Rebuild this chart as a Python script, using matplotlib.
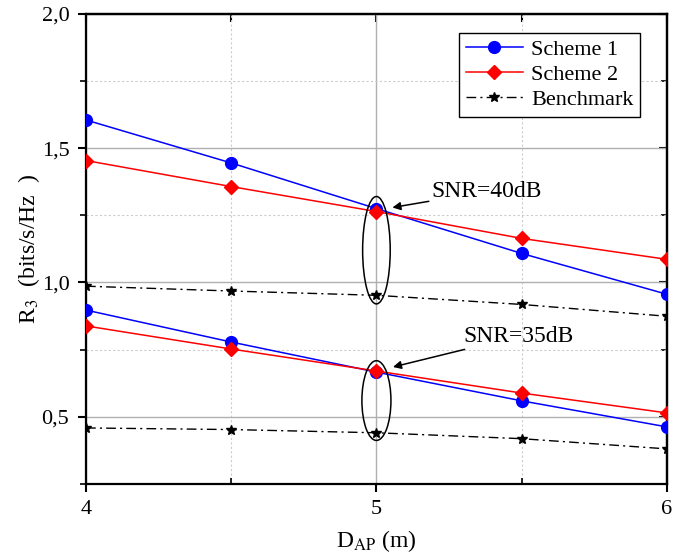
import numpy as np
import matplotlib
matplotlib.use('Agg')
import matplotlib.pyplot as plt
from matplotlib.patches import Ellipse
from matplotlib.ticker import FuncFormatter, MultipleLocator

plt.rcParams['font.family'] = ['Liberation Serif', 'DejaVu Serif']
plt.rcParams['mathtext.fontset'] = 'stix'

d_ap = [4.0, 4.5, 5.0, 5.5, 6.0]

# SNR = 40 dB
scheme1_40 = [1.605, 1.445, 1.275, 1.108, 0.956]
scheme2_40 = [1.454, 1.357, 1.264, 1.164, 1.086]
bench_40 = [0.986, 0.968, 0.952, 0.918, 0.874]

# SNR = 35 dB
scheme1_35 = [0.897, 0.778, 0.666, 0.559, 0.462]
scheme2_35 = [0.838, 0.752, 0.670, 0.588, 0.514]
bench_35 = [0.458, 0.452, 0.440, 0.418, 0.380]

fig = plt.figure(figsize=(6.91, 5.58), dpi=100)
ax = fig.add_axes([0.1245, 0.133, 0.8405, 0.842])

dashdot = (0, (7, 3, 1.5, 3))
ax.plot(d_ap, scheme1_40, '-o', color='blue', lw=1.1, ms=8.5, label='Scheme 1', zorder=5)
ax.plot(d_ap, scheme2_40, '-D', color='red', lw=1.1, ms=7.5, label='Scheme 2', zorder=5)
ax.plot(d_ap, bench_40, marker='*', ls=dashdot, color='black', lw=1.0, ms=7, label='Benchmark', zorder=5)
ax.plot(d_ap, scheme1_35, '-o', color='blue', lw=1.1, ms=8.5, zorder=5)
ax.plot(d_ap, scheme2_35, '-D', color='red', lw=1.1, ms=7.5, zorder=5)
ax.plot(d_ap, bench_35, marker='*', ls=dashdot, color='black', lw=1.0, ms=7, zorder=5)

ax.set_xlim(4, 6)
ax.set_ylim(0.25, 2.0)
ax.xaxis.set_major_locator(MultipleLocator(1))
ax.xaxis.set_minor_locator(MultipleLocator(0.5))
ax.yaxis.set_major_locator(MultipleLocator(0.5))
ax.yaxis.set_minor_locator(MultipleLocator(0.25))
ax.yaxis.set_major_formatter(FuncFormatter(lambda v, p: f'{v:.1f}'.replace('.', ',')))

ax.grid(which='major', color='#b0b0b0', lw=1.0, ls='-')
ax.grid(which='minor', color='#cccccc', lw=0.8, ls=(0, (2, 2)))
ax.set_axisbelow(True)

for s in ax.spines.values():
    s.set_linewidth(1.6)
ax.tick_params(which='major', direction='out', length=6, width=1.5, labelsize=16, pad=6)
ax.tick_params(which='minor', direction='out', length=4, width=1.2)
ax.tick_params(axis='x', which='minor', direction='in')

top = ax.secondary_xaxis('top')
top.set_xticks([4, 5, 6])
top.set_xticks([4.5, 5.5], minor=True)
top.tick_params(which='both', direction='in', length=6, width=1.5, labeltop=False)
top.spines['top'].set_linewidth(1.6)
right = ax.secondary_yaxis('right')
right.set_yticks([0.5, 1.0, 1.5, 2.0])
right.set_yticks([0.25, 0.75, 1.25, 1.75], minor=True)
right.tick_params(which='major', direction='in', length=6, width=1.5, labelright=False)
right.tick_params(which='minor', direction='in', length=4, width=1.2, labelright=False)
right.spines['right'].set_linewidth(1.6)

ax.set_xlabel('D$_{\\mathrm{AP}}$ (m)', fontsize=17, labelpad=6)
ax.set_ylabel('R$_3$  (bits/s/Hz  )', fontsize=17, labelpad=0)

# ellipses marking the two SNR groups
ax.add_patch(Ellipse((5.0, 1.12), 0.095, 0.40, fill=False, ec='black', lw=1.1, zorder=6))
ax.add_patch(Ellipse((5.0, 0.56), 0.10, 0.297, fill=False, ec='black', lw=1.1, zorder=6))

ax.annotate('SNR=40dB', xy=(5.055, 1.279), xytext=(5.19, 1.339), fontsize=17,
            va='center', ha='left',
            arrowprops=dict(arrowstyle='-|>', color='black', lw=1.1, shrinkA=0, shrinkB=0,
                            mutation_scale=12))
ax.annotate('SNR=35dB', xy=(5.057, 0.685), xytext=(5.30, 0.800), fontsize=17,
            va='center', ha='left',
            arrowprops=dict(arrowstyle='-|>', color='black', lw=1.1, shrinkA=0, shrinkB=0,
                            mutation_scale=12))

leg = ax.legend(loc='upper right', bbox_to_anchor=(0.954, 0.96), fontsize=16, frameon=True,
                fancybox=False, edgecolor='black', framealpha=1, borderaxespad=0,
                handlelength=2.6, handletextpad=0.35, labelspacing=0.2, borderpad=0.3)
leg.get_frame().set_linewidth(1.0)

fig.savefig('out.png', dpi=100)
